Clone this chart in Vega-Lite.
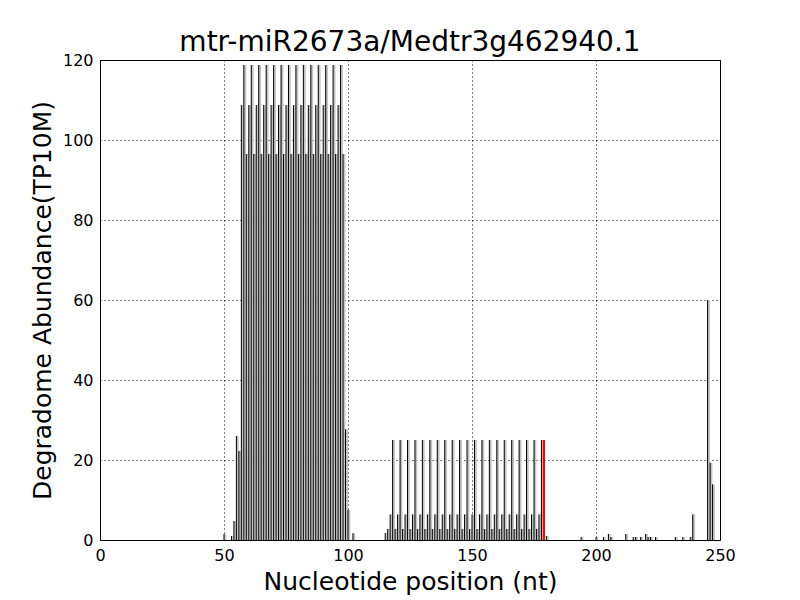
{
  "$schema": "https://vega.github.io/schema/vega-lite/v6.json",
  "width": 620,
  "height": 480,
  "autosize": "none",
  "padding": {"left": 100, "top": 60, "right": 80, "bottom": 60},
  "background": "white",
  "title": {"text": "mtr-miR2673a/Medtr3g462940.1", "font": "DejaVu Sans", "fontSize": 28, "fontWeight": "normal", "color": "black", "offset": -5},
  "config": {
    "view": {"stroke": "black", "strokeWidth": 1},
    "axis": {
      "labelFont": "DejaVu Sans", "labelFontSize": 16, "labelColor": "black",
      "titleFont": "DejaVu Sans", "titleFontSize": 25, "titleFontWeight": "normal", "titleColor": "black",
      "domain": false, "ticks": false,
      "gridColor": "black", "gridDash": [1, 3], "gridWidth": 1, "gridOpacity": 1, "zindex": 1
    }
  },
  "data": {"values": [
    {"pos": 50, "val": 1.5, "kind": "n"},
    {"pos": 53, "val": 1.0, "kind": "n"},
    {"pos": 54, "val": 4.75, "kind": "n"},
    {"pos": 55, "val": 26, "kind": "n"},
    {"pos": 56, "val": 22.25, "kind": "n"},
    {"pos": 57, "val": 108.75, "kind": "n"}, {"pos": 58, "val": 118.75, "kind": "n"}, {"pos": 59, "val": 96.5, "kind": "n"},
    {"pos": 60, "val": 108.75, "kind": "n"}, {"pos": 61, "val": 118.75, "kind": "n"}, {"pos": 62, "val": 96.5, "kind": "n"},
    {"pos": 63, "val": 108.75, "kind": "n"}, {"pos": 64, "val": 118.75, "kind": "n"}, {"pos": 65, "val": 96.5, "kind": "n"},
    {"pos": 66, "val": 108.75, "kind": "n"}, {"pos": 67, "val": 118.75, "kind": "n"}, {"pos": 68, "val": 96.5, "kind": "n"},
    {"pos": 69, "val": 108.75, "kind": "n"}, {"pos": 70, "val": 118.75, "kind": "n"}, {"pos": 71, "val": 96.5, "kind": "n"},
    {"pos": 72, "val": 108.75, "kind": "n"}, {"pos": 73, "val": 118.75, "kind": "n"}, {"pos": 74, "val": 96.5, "kind": "n"},
    {"pos": 75, "val": 108.75, "kind": "n"}, {"pos": 76, "val": 118.75, "kind": "n"}, {"pos": 77, "val": 96.5, "kind": "n"},
    {"pos": 78, "val": 108.75, "kind": "n"}, {"pos": 79, "val": 118.75, "kind": "n"}, {"pos": 80, "val": 96.5, "kind": "n"},
    {"pos": 81, "val": 108.75, "kind": "n"}, {"pos": 82, "val": 118.75, "kind": "n"}, {"pos": 83, "val": 96.5, "kind": "n"},
    {"pos": 84, "val": 108.75, "kind": "n"}, {"pos": 85, "val": 118.75, "kind": "n"}, {"pos": 86, "val": 96.5, "kind": "n"},
    {"pos": 87, "val": 108.75, "kind": "n"}, {"pos": 88, "val": 118.75, "kind": "n"}, {"pos": 89, "val": 96.5, "kind": "n"},
    {"pos": 90, "val": 108.75, "kind": "n"}, {"pos": 91, "val": 118.75, "kind": "n"}, {"pos": 92, "val": 96.5, "kind": "n"},
    {"pos": 93, "val": 108.75, "kind": "n"}, {"pos": 94, "val": 118.75, "kind": "n"}, {"pos": 95, "val": 96.5, "kind": "n"},
    {"pos": 96, "val": 108.75, "kind": "n"}, {"pos": 97, "val": 118.75, "kind": "n"}, {"pos": 98, "val": 96.5, "kind": "n"},
    {"pos": 99, "val": 27.7, "kind": "n"},
    {"pos": 100, "val": 7.5, "kind": "n"},
    {"pos": 102, "val": 1.7, "kind": "n"},
    {"pos": 115, "val": 1.75, "kind": "n"},
    {"pos": 116, "val": 2.75, "kind": "n"}, {"pos": 117, "val": 6.4, "kind": "n"}, {"pos": 118, "val": 25, "kind": "n"},
    {"pos": 119, "val": 2.75, "kind": "n"}, {"pos": 120, "val": 6.4, "kind": "n"}, {"pos": 121, "val": 25, "kind": "n"},
    {"pos": 122, "val": 2.75, "kind": "n"}, {"pos": 123, "val": 6.4, "kind": "n"}, {"pos": 124, "val": 25, "kind": "n"},
    {"pos": 125, "val": 2.75, "kind": "n"}, {"pos": 126, "val": 6.4, "kind": "n"}, {"pos": 127, "val": 25, "kind": "n"},
    {"pos": 128, "val": 2.75, "kind": "n"}, {"pos": 129, "val": 6.4, "kind": "n"}, {"pos": 130, "val": 25, "kind": "n"},
    {"pos": 131, "val": 2.75, "kind": "n"}, {"pos": 132, "val": 6.4, "kind": "n"}, {"pos": 133, "val": 25, "kind": "n"},
    {"pos": 134, "val": 2.75, "kind": "n"}, {"pos": 135, "val": 6.4, "kind": "n"}, {"pos": 136, "val": 25, "kind": "n"},
    {"pos": 137, "val": 2.75, "kind": "n"}, {"pos": 138, "val": 6.4, "kind": "n"}, {"pos": 139, "val": 25, "kind": "n"},
    {"pos": 140, "val": 2.75, "kind": "n"}, {"pos": 141, "val": 6.4, "kind": "n"}, {"pos": 142, "val": 25, "kind": "n"},
    {"pos": 143, "val": 2.75, "kind": "n"}, {"pos": 144, "val": 6.4, "kind": "n"}, {"pos": 145, "val": 25, "kind": "n"},
    {"pos": 146, "val": 2.75, "kind": "n"}, {"pos": 147, "val": 6.4, "kind": "n"}, {"pos": 148, "val": 25, "kind": "n"},
    {"pos": 149, "val": 2.75, "kind": "n"}, {"pos": 150, "val": 6.4, "kind": "n"}, {"pos": 151, "val": 25, "kind": "n"},
    {"pos": 152, "val": 2.75, "kind": "n"}, {"pos": 153, "val": 6.4, "kind": "n"}, {"pos": 154, "val": 25, "kind": "n"},
    {"pos": 155, "val": 2.75, "kind": "n"}, {"pos": 156, "val": 6.4, "kind": "n"}, {"pos": 157, "val": 25, "kind": "n"},
    {"pos": 158, "val": 2.75, "kind": "n"}, {"pos": 159, "val": 6.4, "kind": "n"}, {"pos": 160, "val": 25, "kind": "n"},
    {"pos": 161, "val": 2.75, "kind": "n"}, {"pos": 162, "val": 6.4, "kind": "n"}, {"pos": 163, "val": 25, "kind": "n"},
    {"pos": 164, "val": 2.75, "kind": "n"}, {"pos": 165, "val": 6.4, "kind": "n"}, {"pos": 166, "val": 25, "kind": "n"},
    {"pos": 167, "val": 2.75, "kind": "n"}, {"pos": 168, "val": 6.4, "kind": "n"}, {"pos": 169, "val": 25, "kind": "n"},
    {"pos": 170, "val": 2.75, "kind": "n"}, {"pos": 171, "val": 6.4, "kind": "n"}, {"pos": 172, "val": 25, "kind": "n"},
    {"pos": 173, "val": 2.75, "kind": "n"}, {"pos": 174, "val": 6.4, "kind": "n"}, {"pos": 175, "val": 25, "kind": "n"},
    {"pos": 176, "val": 2.75, "kind": "n"}, {"pos": 177, "val": 6.4, "kind": "n"}, {"pos": 178, "val": 25, "kind": "n"},
    {"pos": 179, "val": 25, "kind": "c"},
    {"pos": 180, "val": 1.0, "kind": "n"},
    {"pos": 194, "val": 0.75, "kind": "n"},
    {"pos": 200, "val": 0.75, "kind": "n"},
    {"pos": 203, "val": 0.75, "kind": "n"},
    {"pos": 205, "val": 1.5, "kind": "n"},
    {"pos": 206, "val": 0.75, "kind": "n"},
    {"pos": 212, "val": 1.5, "kind": "n"},
    {"pos": 215, "val": 0.75, "kind": "n"},
    {"pos": 216, "val": 0.75, "kind": "n"},
    {"pos": 218, "val": 0.75, "kind": "n"},
    {"pos": 220, "val": 1.5, "kind": "n"},
    {"pos": 221, "val": 0.75, "kind": "n"},
    {"pos": 222, "val": 0.75, "kind": "n"},
    {"pos": 224, "val": 0.75, "kind": "n"},
    {"pos": 232, "val": 0.75, "kind": "n"},
    {"pos": 235, "val": 0.75, "kind": "n"},
    {"pos": 238, "val": 0.75, "kind": "n"},
    {"pos": 239, "val": 6.4, "kind": "n"},
    {"pos": 245, "val": 60, "kind": "n"},
    {"pos": 246, "val": 19.3, "kind": "n"},
    {"pos": 247, "val": 13.9, "kind": "n"}
  ]},
  "layer": [
    {
      "transform": [{"filter": "datum.kind == 'n'"}],
      "mark": {"type": "bar", "fill": "#c4c4c4", "width": 2.3, "xOffset": 1.2},
      "encoding": {
        "x": {"field": "pos", "type": "quantitative", "scale": {"domain": [0, 250], "nice": false, "zero": false, "padding": 0},
              "axis": {"orient": "bottom", "title": "Nucleotide position (nt)", "values": [0, 50, 100, 150, 200, 250], "grid": true, "labelPadding": 7, "titlePadding": 6, "labelFlush": false}},
        "y": {"field": "val", "type": "quantitative", "scale": {"domain": [0, 120], "nice": false, "padding": 0},
              "axis": {"orient": "left", "title": "Degradome Abundance(TP10M)", "values": [0, 20, 40, 60, 80, 100, 120], "grid": true, "labelPadding": 7, "titlePadding": 7}}
      }
    },
    {
      "transform": [{"filter": "datum.kind == 'n'"}],
      "mark": {"type": "rule", "color": "black", "strokeWidth": 1},
      "encoding": {
        "x": {"field": "pos", "type": "quantitative"},
        "y": {"field": "val", "type": "quantitative"},
        "y2": {"datum": 0}
      }
    },
    {
      "transform": [{"filter": "datum.kind == 'c'"}],
      "mark": {"type": "bar", "fill": "red", "width": 2.2},
      "encoding": {
        "x": {"field": "pos", "type": "quantitative"},
        "y": {"field": "val", "type": "quantitative"}
      }
    }
  ]
}
